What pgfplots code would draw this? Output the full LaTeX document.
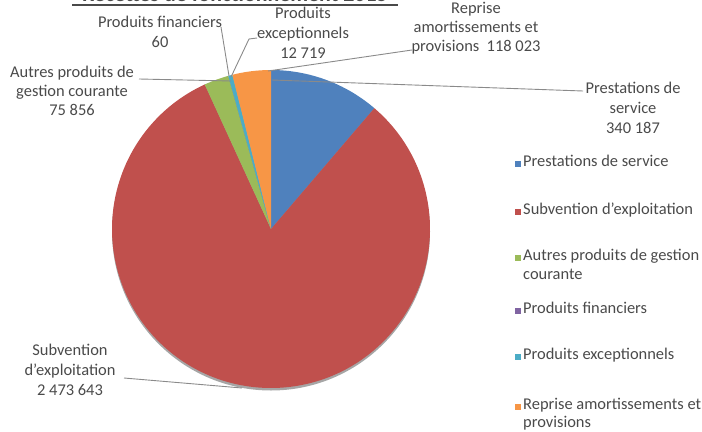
\documentclass[border=0pt]{standalone}
\usepackage{pgfplots}
\pgfplotsset{compat=1.18}
\usepackage{pgfplotstable}
\usepackage{fontspec}
\setmainfont{Carlito}

\definecolor{cPrest}{HTML}{4F81BD}
\definecolor{cSubv}{HTML}{C0504D}
\definecolor{cAutr}{HTML}{9BBB59}
\definecolor{cFin}{HTML}{8064A2}
\definecolor{cExc}{HTML}{4BACC6}
\definecolor{cRep}{HTML}{F79646}
\definecolor{txt}{HTML}{4A4A4A}
\definecolor{leader}{HTML}{8A8A8A}

% recettes de fonctionnement (euros)
\pgfplotstableread{
idx value
0 340187
1 2473643
2 75856
3 60
4 12719
5 118023
}\recettes

\newcommand\getval[2]{\pgfplotstablegetelem{#1}{value}\of\recettes\edef#2{\pgfplotsretval}}
\getval{0}\vA \getval{1}\vB \getval{2}\vC
\getval{3}\vD \getval{4}\vE \getval{5}\vF
\edef\tot{\fpeval{\vA+\vB+\vC+\vD+\vE+\vF}}
% angles: start at 12 o'clock, clockwise
\edef\aA{90}
\edef\aB{\fpeval{\aA-360*\vA/\tot}}
\edef\aC{\fpeval{\aB-360*\vB/\tot}}
\edef\aD{\fpeval{\aC-360*\vC/\tot}}
\edef\aE{\fpeval{\aD-360*\vD/\tot}}
\edef\aF{\fpeval{\aE-360*\vE/\tot}}
\edef\aG{\fpeval{\aF-360*\vF/\tot}}

\def\cx{271}\def\cy{229}
\newcommand\slice[3]{%
  \fill[#1] (axis cs:\cx,\cy) -- ([shift={(#2:159bp)}]axis cs:\cx,\cy)
    arc[start angle=#2, end angle=#3, radius=159bp] -- cycle;}

\tikzset{
  lab/.style={font=\fontsize{16.5}{20}\selectfont, text=txt, inner sep=0pt,
    text height=1.5ex, text depth=.25ex},
  lead/.style={draw=leader, line width=0.9bp},
}
\newcommand\lbl[3]{\node[lab] at (axis cs:#1,#2) {#3};}
\newcommand\leg[3]{%
  \fill[#1] (axis cs:515,{#3-3}) rectangle (axis cs:521,{#3+3});
  \node[lab, anchor=west] at (axis cs:523,#3) {#2};}

\begin{document}
\begin{tikzpicture}
\begin{axis}[
  width=702bp, height=432bp, scale only axis,
  xmin=0, xmax=702, ymin=0, ymax=432, y dir=reverse,
  hide axis, clip=false,
]
% title (cut off at the top of the picture)
\node[font=\bfseries\fontsize{22}{26}\selectfont, text=txt, anchor=base, inner sep=0pt]
  at (axis cs:235,1.5) {Recettes de fonctionnement 2015};
\draw[txt, line width=1.1bp] (axis cs:72,5) -- (axis cs:398,5);

% pie
\fill[black, opacity=0.35] (axis cs:\cx,{\cy+2.5}) circle[radius=159bp];
\slice{cPrest}{\aA}{\aB}
\slice{cSubv}{\aB}{\aC}
\slice{cAutr}{\aC}{\aD}
\slice{cFin}{\aD}{\aE}
\slice{cExc}{\aE}{\aF}
\slice{cRep}{\aF}{\aG}

% leader lines
\draw[lead] (axis cs:221,27) -- (axis cs:229,76);
\draw[lead] (axis cs:257,38) -- (axis cs:249,39) -- (axis cs:231,77);
\draw[lead] (axis cs:412,50) -- (axis cs:268,71);
\draw[lead] (axis cs:139,79) -- (axis cs:231,81);
\draw[lead] (axis cs:272,80) -- (axis cs:583,91);
\draw[lead] (axis cs:124,378) -- (axis cs:242,388);

% data labels
\lbl{160}{25}{Produits financiers}
\lbl{160}{45}{60}
\lbl{303}{16}{Produits}
\lbl{303}{36}{exceptionnels}
\lbl{303}{56}{12 719}
\lbl{476}{11}{Reprise}
\lbl{476}{30}{amortissements et}
\lbl{476}{49}{provisions\ \ 118 023}
\lbl{72}{75}{Autres produits de}
\lbl{72}{94}{gestion courante}
\lbl{72}{113}{75 856}
\lbl{633}{91}{Prestations de}
\lbl{633}{111}{service}
\lbl{633}{131}{340 187}
\lbl{70}{353}{Subvention}
\lbl{70}{373}{d'exploitation}
\lbl{70}{393}{2 473 643}

% legend
\leg{cPrest}{Prestations de service}{164}
\leg{cSubv}{Subvention d'exploitation}{212}
\leg{cAutr}{Autres produits de gestion}{258}
\node[lab, anchor=west] at (axis cs:523,277) {courante};
\leg{cFin}{Produits financiers}{311}
\leg{cExc}{Produits exceptionnels}{357}
\leg{cRep}{Reprise amortissements et}{407}
\node[lab, anchor=west] at (axis cs:523,425) {provisions};
\end{axis}
\pgfresetboundingbox
\useasboundingbox (current axis.south west) rectangle (current axis.north east);
\end{tikzpicture}
\end{document}
